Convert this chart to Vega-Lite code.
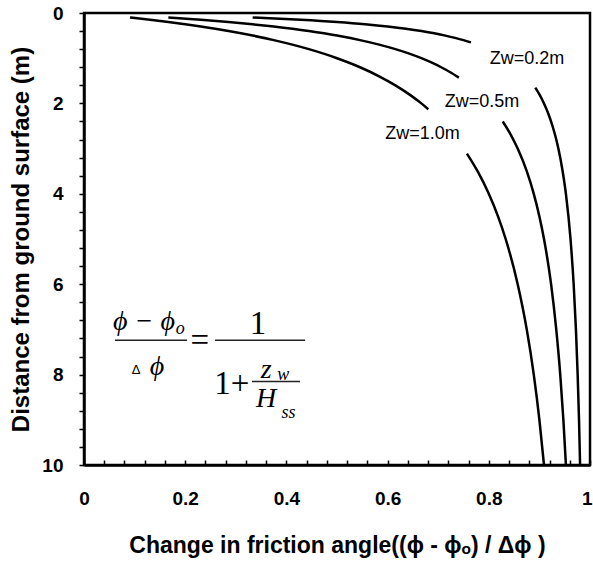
{
  "$schema": "https://vega.github.io/schema/vega-lite/v6.json",
  "width": 506,
  "height": 452,
  "autosize": {"type": "none"},
  "padding": {"left": 84, "top": 13, "right": 3, "bottom": 96},
  "background": "white",
  "view": {"stroke": "black", "strokeWidth": 2.5},
  "config": {
    "axis": {"domainColor": "black", "domainWidth": 2.5, "ticks": true, "tickColor": "black", "tickWidth": 1.5, "tickOpacity": 1, "grid": false,
      "labelFont": "Liberation Sans", "labelFontWeight": "bold", "labelFontSize": 19, "labelColor": "black",
      "titleFont": "Liberation Sans", "titleFontWeight": "bold", "titleColor": "black", "labelOverlap": false, "labelFlush": false}
  },
  "layer": [
    {
      "data": {"values": [
        {"zw": "0.2", "seg": "0.2a", "depth": 0.1, "x": 0.3333},
        {"zw": "0.2", "seg": "0.2a", "depth": 0.15, "x": 0.4286},
        {"zw": "0.2", "seg": "0.2a", "depth": 0.2, "x": 0.5},
        {"zw": "0.2", "seg": "0.2a", "depth": 0.25, "x": 0.5556},
        {"zw": "0.2", "seg": "0.2a", "depth": 0.3, "x": 0.6},
        {"zw": "0.2", "seg": "0.2a", "depth": 0.35, "x": 0.6364},
        {"zw": "0.2", "seg": "0.2a", "depth": 0.4, "x": 0.6667},
        {"zw": "0.2", "seg": "0.2a", "depth": 0.45, "x": 0.6923},
        {"zw": "0.2", "seg": "0.2a", "depth": 0.5, "x": 0.7143},
        {"zw": "0.2", "seg": "0.2a", "depth": 0.55, "x": 0.7333},
        {"zw": "0.2", "seg": "0.2a", "depth": 0.6, "x": 0.75},
        {"zw": "0.2", "seg": "0.2a", "depth": 0.65, "x": 0.7647},
        {"zw": "0.2", "seg": "0.2b", "depth": 1.65, "x": 0.8919},
        {"zw": "0.2", "seg": "0.2b", "depth": 1.8, "x": 0.9},
        {"zw": "0.2", "seg": "0.2b", "depth": 2.0, "x": 0.9091},
        {"zw": "0.2", "seg": "0.2b", "depth": 2.25, "x": 0.9184},
        {"zw": "0.2", "seg": "0.2b", "depth": 2.5, "x": 0.9259},
        {"zw": "0.2", "seg": "0.2b", "depth": 2.75, "x": 0.9322},
        {"zw": "0.2", "seg": "0.2b", "depth": 3.0, "x": 0.9375},
        {"zw": "0.2", "seg": "0.2b", "depth": 3.5, "x": 0.9459},
        {"zw": "0.2", "seg": "0.2b", "depth": 4.0, "x": 0.9524},
        {"zw": "0.2", "seg": "0.2b", "depth": 5.0, "x": 0.9615},
        {"zw": "0.2", "seg": "0.2b", "depth": 6.0, "x": 0.9677},
        {"zw": "0.2", "seg": "0.2b", "depth": 7.0, "x": 0.9722},
        {"zw": "0.2", "seg": "0.2b", "depth": 8.0, "x": 0.9756},
        {"zw": "0.2", "seg": "0.2b", "depth": 9.0, "x": 0.9783},
        {"zw": "0.2", "seg": "0.2b", "depth": 10.0, "x": 0.9804},
        {"zw": "0.5", "seg": "0.5a", "depth": 0.1, "x": 0.1667},
        {"zw": "0.5", "seg": "0.5a", "depth": 0.15, "x": 0.2308},
        {"zw": "0.5", "seg": "0.5a", "depth": 0.2, "x": 0.2857},
        {"zw": "0.5", "seg": "0.5a", "depth": 0.25, "x": 0.3333},
        {"zw": "0.5", "seg": "0.5a", "depth": 0.3, "x": 0.375},
        {"zw": "0.5", "seg": "0.5a", "depth": 0.4, "x": 0.4444},
        {"zw": "0.5", "seg": "0.5a", "depth": 0.5, "x": 0.5},
        {"zw": "0.5", "seg": "0.5a", "depth": 0.6, "x": 0.5455},
        {"zw": "0.5", "seg": "0.5a", "depth": 0.7, "x": 0.5833},
        {"zw": "0.5", "seg": "0.5a", "depth": 0.8, "x": 0.6154},
        {"zw": "0.5", "seg": "0.5a", "depth": 0.9, "x": 0.6429},
        {"zw": "0.5", "seg": "0.5a", "depth": 1.0, "x": 0.6667},
        {"zw": "0.5", "seg": "0.5a", "depth": 1.1, "x": 0.6875},
        {"zw": "0.5", "seg": "0.5a", "depth": 1.2, "x": 0.7059},
        {"zw": "0.5", "seg": "0.5a", "depth": 1.3, "x": 0.7222},
        {"zw": "0.5", "seg": "0.5a", "depth": 1.43, "x": 0.7409},
        {"zw": "0.5", "seg": "0.5b", "depth": 2.4, "x": 0.8276},
        {"zw": "0.5", "seg": "0.5b", "depth": 2.7, "x": 0.8438},
        {"zw": "0.5", "seg": "0.5b", "depth": 3.0, "x": 0.8571},
        {"zw": "0.5", "seg": "0.5b", "depth": 3.5, "x": 0.875},
        {"zw": "0.5", "seg": "0.5b", "depth": 4.0, "x": 0.8889},
        {"zw": "0.5", "seg": "0.5b", "depth": 4.5, "x": 0.9},
        {"zw": "0.5", "seg": "0.5b", "depth": 5.0, "x": 0.9091},
        {"zw": "0.5", "seg": "0.5b", "depth": 6.0, "x": 0.9231},
        {"zw": "0.5", "seg": "0.5b", "depth": 7.0, "x": 0.9333},
        {"zw": "0.5", "seg": "0.5b", "depth": 8.0, "x": 0.9412},
        {"zw": "0.5", "seg": "0.5b", "depth": 9.0, "x": 0.9474},
        {"zw": "0.5", "seg": "0.5b", "depth": 10.0, "x": 0.9524},
        {"zw": "1.0", "seg": "1.0a", "depth": 0.1, "x": 0.0909},
        {"zw": "1.0", "seg": "1.0a", "depth": 0.15, "x": 0.1304},
        {"zw": "1.0", "seg": "1.0a", "depth": 0.2, "x": 0.1667},
        {"zw": "1.0", "seg": "1.0a", "depth": 0.3, "x": 0.2308},
        {"zw": "1.0", "seg": "1.0a", "depth": 0.4, "x": 0.2857},
        {"zw": "1.0", "seg": "1.0a", "depth": 0.5, "x": 0.3333},
        {"zw": "1.0", "seg": "1.0a", "depth": 0.6, "x": 0.375},
        {"zw": "1.0", "seg": "1.0a", "depth": 0.7, "x": 0.4118},
        {"zw": "1.0", "seg": "1.0a", "depth": 0.8, "x": 0.4444},
        {"zw": "1.0", "seg": "1.0a", "depth": 1.0, "x": 0.5},
        {"zw": "1.0", "seg": "1.0a", "depth": 1.2, "x": 0.5455},
        {"zw": "1.0", "seg": "1.0a", "depth": 1.4, "x": 0.5833},
        {"zw": "1.0", "seg": "1.0a", "depth": 1.6, "x": 0.6154},
        {"zw": "1.0", "seg": "1.0a", "depth": 1.8, "x": 0.6429},
        {"zw": "1.0", "seg": "1.0a", "depth": 2.0, "x": 0.6667},
        {"zw": "1.0", "seg": "1.0a", "depth": 2.13, "x": 0.6805},
        {"zw": "1.0", "seg": "1.0b", "depth": 3.11, "x": 0.7567},
        {"zw": "1.0", "seg": "1.0b", "depth": 3.5, "x": 0.7778},
        {"zw": "1.0", "seg": "1.0b", "depth": 4.0, "x": 0.8},
        {"zw": "1.0", "seg": "1.0b", "depth": 4.5, "x": 0.8182},
        {"zw": "1.0", "seg": "1.0b", "depth": 5.0, "x": 0.8333},
        {"zw": "1.0", "seg": "1.0b", "depth": 6.0, "x": 0.8571},
        {"zw": "1.0", "seg": "1.0b", "depth": 7.0, "x": 0.875},
        {"zw": "1.0", "seg": "1.0b", "depth": 8.0, "x": 0.8889},
        {"zw": "1.0", "seg": "1.0b", "depth": 9.0, "x": 0.9},
        {"zw": "1.0", "seg": "1.0b", "depth": 10.0, "x": 0.9091}
      ]},
      "mark": {"type": "line", "color": "black", "strokeWidth": 2.5, "interpolate": "monotone"},
      "encoding": {
        "x": {"field": "x", "type": "quantitative",
          "scale": {"domain": [0, 1], "nice": false},
          "axis": {
            "title": "Change in friction angle((ϕ - ϕₒ) / Δϕ )",
            "titleFontSize": 23, "titlePadding": 26,
            "values": [0, 0.04, 0.08, 0.12, 0.16, 0.2, 0.24, 0.28, 0.32, 0.36, 0.4, 0.44, 0.48, 0.52, 0.56, 0.6, 0.64, 0.68, 0.72, 0.76, 0.8, 0.84, 0.88, 0.92, 0.96, 1],
            "tickCount": 100,
            "labelOverlap": false,
            "labelExpr": "abs(datum.value*5 - round(datum.value*5)) < 0.000001 ? format(datum.value, '~g') : ''",
            "tickSize": -5, "labelPadding": 29,
            "labelAlign": {"condition": {"test": "datum.value === 1", "value": "right"}, "value": "center"},
            "labelOffset": {"condition": {"test": "datum.value === 1", "value": 2}, "value": 0}
          }},
        "y": {"field": "depth", "type": "quantitative",
          "scale": {"domain": [0, 10], "reverse": true, "nice": false},
          "axis": {
            "title": "Distance from ground surface (m)",
            "titleFontSize": 24, "titlePadding": 8,
            "values": [0, 0.4, 0.8, 1.2, 1.6, 2, 2.4, 2.8, 3.2, 3.6, 4, 4.4, 4.8, 5.2, 5.6, 6, 6.4, 6.8, 7.2, 7.6, 8, 8.4, 8.8, 9.2, 9.6, 10],
            "tickCount": 100,
            "labelOverlap": false,
            "labelExpr": "datum.value % 2 == 0 ? format(datum.value, 'd') : ''",
            "tickSize": 5, "labelPadding": 16
          }},
        "detail": {"field": "seg"}
      }
    },
    {
      "data": {"values": [
        {"label": "Zw=0.2m", "x": 0.8755, "depth": 1.007},
        {"label": "Zw=0.5m", "x": 0.7866, "depth": 1.958},
        {"label": "Zw=1.0m", "x": 0.669, "depth": 2.666}
      ]},
      "mark": {"type": "text", "font": "Liberation Sans", "fontSize": 18, "color": "black", "align": "center", "baseline": "middle"},
      "encoding": {
        "x": {"field": "x", "type": "quantitative"},
        "y": {"field": "depth", "type": "quantitative"},
        "text": {"field": "label"}
      }
    },
    {
      "data": {"values": [
        {"x": 0.0613, "x2": 0.2036, "depth": 7.24},
        {"x": 0.259, "x2": 0.437, "depth": 7.24},
        {"x": 0.332, "x2": 0.427, "depth": 8.15}
      ]},
      "mark": {"type": "rule", "color": "#222222", "strokeWidth": 1.5},
      "encoding": {
        "x": {"field": "x", "type": "quantitative"},
        "x2": {"field": "x2"},
        "y": {"field": "depth", "type": "quantitative"}
      }
    },
    {
      "data": {"values": [
        {"t": "ϕ − ϕ", "x": 0.1186, "depth": 6.83},
        {"t": "ϕ", "x": 0.1443, "depth": 7.84}
      ]},
      "mark": {"type": "text", "font": "Liberation Serif", "fontStyle": "italic", "fontSize": 28, "color": "black", "align": "center", "baseline": "middle"},
      "encoding": {
        "x": {"field": "x", "type": "quantitative"},
        "y": {"field": "depth", "type": "quantitative"},
        "text": {"field": "t"}
      }
    },
    {
      "data": {"values": [
        {"t": "=", "x": 0.229, "depth": 7.25},
        {"t": "1", "x": 0.344, "depth": 6.87},
        {"t": "1+", "x": 0.292, "depth": 8.2}
      ]},
      "mark": {"type": "text", "font": "Liberation Serif", "fontSize": 33, "color": "black", "align": "center", "baseline": "middle"},
      "encoding": {
        "x": {"field": "x", "type": "quantitative"},
        "y": {"field": "depth", "type": "quantitative"},
        "text": {"field": "t"}
      }
    },
    {
      "data": {"values": [
        {"t": "Δ", "x": 0.103, "depth": 7.9}
      ]},
      "mark": {"type": "text", "font": "Liberation Sans", "fontSize": 13, "color": "black", "align": "center", "baseline": "middle"},
      "encoding": {
        "x": {"field": "x", "type": "quantitative"},
        "y": {"field": "depth", "type": "quantitative"},
        "text": {"field": "t"}
      }
    },
    {
      "data": {"values": [
        {"t": "z", "x": 0.36, "depth": 7.9},
        {"t": "H", "x": 0.36, "depth": 8.53}
      ]},
      "mark": {"type": "text", "font": "Liberation Serif", "fontStyle": "italic", "fontSize": 28, "color": "black", "align": "center", "baseline": "middle"},
      "encoding": {
        "x": {"field": "x", "type": "quantitative"},
        "y": {"field": "depth", "type": "quantitative"},
        "text": {"field": "t"}
      }
    },
    {
      "data": {"values": [
        {"t": "o", "x": 0.19, "depth": 7.0},
        {"t": "w", "x": 0.394, "depth": 8.0},
        {"t": "ss", "x": 0.404, "depth": 8.85}
      ]},
      "mark": {"type": "text", "font": "Liberation Serif", "fontStyle": "italic", "fontSize": 18, "color": "black", "align": "center", "baseline": "middle"},
      "encoding": {
        "x": {"field": "x", "type": "quantitative"},
        "y": {"field": "depth", "type": "quantitative"},
        "text": {"field": "t"}
      }
    }
  ]
}
